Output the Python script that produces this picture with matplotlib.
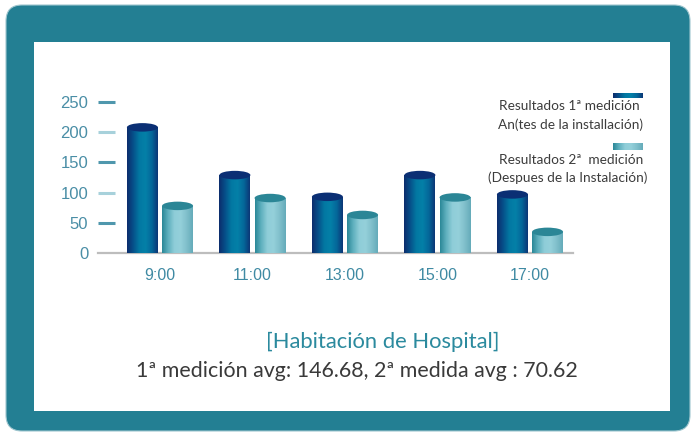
import matplotlib
matplotlib.use("Agg")
import matplotlib.pyplot as plt
import numpy as np
from matplotlib.patches import FancyBboxPatch, Rectangle, Ellipse
from matplotlib.colors import LinearSegmentedColormap

# ---- data ----
categories = ["9:00", "11:00", "13:00", "15:00", "17:00"]
medicion1 = [208, 129, 93, 129, 97]
medicion2 = [78, 91, 63, 92, 35]
yticks = [0, 50, 100, 150, 200, 250]
legend1 = ["Resultados 1ª medición", "An(tes de la installación)"]
legend2 = ["Resultados 2ª  medición", "(Despues de la Instalación)"]
title = "[Habitación de Hospital]"
subtitle = "1ª medición avg: 146.68, 2ª medida avg : 70.62"

W, H = 692, 434
fig = plt.figure(figsize=(W / 100, H / 100), dpi=100, facecolor="white")

# ---- frame ----
bg = fig.add_axes([0, 0, 1, 1], zorder=0)
bg.set_xlim(0, W)
bg.set_ylim(H, 0)
bg.axis("off")
TEAL = "#237f93"
bg.add_patch(FancyBboxPatch((6, 5), 684, 426, boxstyle="round,pad=0,rounding_size=16",
                            facecolor=TEAL, edgecolor="#9fc6cf", linewidth=0.8))
bg.add_patch(Rectangle((34, 42), 636, 369, facecolor="white", edgecolor="none"))

cm_dark = LinearSegmentedColormap.from_list(
    "dark", ["#0c2c6c", "#06508a", "#0278a2", "#0480a8", "#04689a", "#0c3676"])
cm_light = LinearSegmentedColormap.from_list(
    "light", ["#2a8797", "#5fb0be", "#8fcdd8", "#94d0da", "#80bfcb", "#64abb9"])
grad = np.linspace(0, 1, 256).reshape(1, -1)
bg.imshow(grad, extent=[613, 643, 98, 93], cmap=cm_dark, aspect="auto", zorder=2)
bg.imshow(grad, extent=[613, 643, 150, 143], cmap=cm_light, aspect="auto", zorder=2)
bg.set_xlim(0, W)
bg.set_ylim(H, 0)

FONT = ["Lato", "DejaVu Sans"]
lkw = dict(ha="right", va="center", fontsize=9.8, color="#3c3c3c", family=FONT)
bg.text(640, 106, legend1[0], **lkw)
bg.text(643, 125, legend1[1], **lkw)
bg.text(643, 160, legend2[0], **lkw)
bg.text(647, 178, legend2[1], **lkw)

bg.text(383, 342, title, ha="center", va="center", fontsize=15.8,
        color="#2b8a9e", family=FONT)
bg.text(357, 371, subtitle, ha="center", va="center", fontsize=15.4,
        color="#3a3a3a", family=FONT)

# ---- data axes ----
x0, x1, yb, yt = 98, 573, 253, 102
ax = fig.add_axes([x0 / W, (H - yb) / H, (x1 - x0) / W, (yb - yt) / H], zorder=1)
ax.patch.set_alpha(0)
xmin, xmax = -0.67, 4.465
ax.set_xlim(xmin, xmax)
ax.set_ylim(0, 250)

x = np.arange(len(categories))
bw = 0.335
off = 0.19
px_per_unit = (yb - yt) / 250.0
cap_h = 8.5 / px_per_unit

def cylinders(xs, vals, cmap, capcol):
    bars = ax.bar(xs, vals, bw, color=capcol, zorder=3)
    for b, xc, v in zip(bars, xs, vals):
        im = ax.imshow(grad, extent=[xc - bw / 2, xc + bw / 2, 0, v], cmap=cmap,
                       aspect="auto", zorder=3.5)
        im.set_clip_path(b)
        ax.add_patch(Ellipse((xc, v), bw, cap_h, facecolor=capcol, edgecolor="none",
                             zorder=4, clip_on=False))

cylinders(x - off, medicion1, cm_dark, "#0b2f74")
cylinders(x + off, medicion2, cm_light, "#2b8696")
ax.set_xlim(xmin, xmax)
ax.set_ylim(0, 250)
ax.set_aspect("auto")

for s in ["top", "right", "left"]:
    ax.spines[s].set_visible(False)
ax.spines["bottom"].set_color("#bdbdbd")
ax.spines["bottom"].set_linewidth(1.6)
ax.spines["bottom"].set_zorder(2)

ax.set_xticks(x)
ax.set_xticklabels(categories)
ax.set_yticks(yticks)
ax.set_yticklabels([str(t) for t in yticks])
TFONT = ["Liberation Sans", "DejaVu Sans"]
ax.tick_params(axis="x", length=0, pad=11, labelsize=11.5, labelcolor="#3f8aa3")
ax.tick_params(axis="y", direction="in", length=12, width=2.2, pad=7,
               labelsize=12, labelcolor="#4a8ea6")
for lbl in ax.get_xticklabels() + ax.get_yticklabels():
    lbl.set_family(TFONT)
for t, tk in zip(yticks, ax.yaxis.get_major_ticks()):
    idx = t // 50
    if t == 0:
        tk.tick1line.set_visible(False)
    else:
        c = "#4f97ad" if idx % 2 == 1 else "#a7d1db"
        tk.tick1line.set_markeredgecolor(c)
        tk.tick1line.set_color(c)
    tk.tick1line.set_clip_on(False)

fig.savefig("out.png", dpi=100, facecolor="white")
